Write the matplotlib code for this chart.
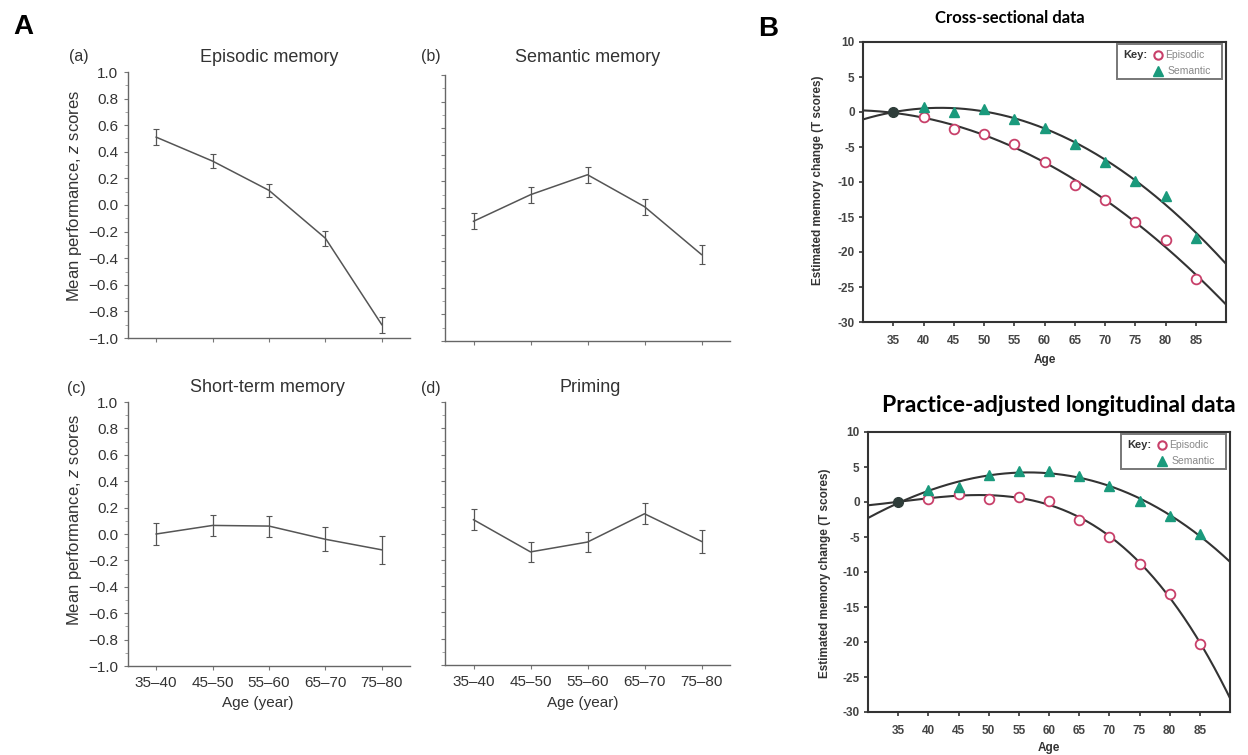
import numpy as np
import matplotlib
matplotlib.use("Agg")
import matplotlib.pyplot as plt
from matplotlib.ticker import MultipleLocator
from matplotlib.patches import Rectangle

plt.rcParams["axes.unicode_minus"] = False
plt.rcParams["mathtext.fontset"] = "custom"
plt.rcParams["mathtext.it"] = "Liberation Sans:italic"
plt.rcParams["mathtext.rm"] = "Liberation Sans"

# ---------------- data ----------------
age_groups = ["35–40", "45–50", "55–60", "65–70", "75–80"]
episodic_mean = [0.51, 0.33, 0.11, -0.25, -0.90]
episodic_err = [0.06, 0.05, 0.05, 0.055, 0.06]
semantic_mean = [-0.10, 0.10, 0.25, 0.01, -0.35]
semantic_err = [0.06, 0.06, 0.06, 0.06, 0.07]
short_term_mean = [0.0, 0.065, 0.06, -0.04, -0.12]
short_term_err = [0.085, 0.08, 0.08, 0.09, 0.105]
priming_mean = [0.105, -0.14, -0.065, 0.15, -0.06]
priming_err = [0.08, 0.075, 0.075, 0.08, 0.085]
z_ticks = [-1.0, -0.8, -0.6, -0.4, -0.2, 0.0, 0.2, 0.4, 0.6, 0.8, 1.0]

ages = [35, 40, 45, 50, 55, 60, 65, 70, 75, 80, 85]
cross_episodic = [0, -0.7, -2.45, -3.15, -4.5, -7.2, -10.4, -12.55, -15.65, -18.35, -23.85]
cross_semantic = [0, 0.75, 0.0, 0.5, -1.0, -2.25, -4.5, -7.15, -9.85, -12.0, -17.95]
long_episodic = [0, 0.5, 1.2, 0.5, 0.7, 0.15, -2.6, -5.0, -8.8, -13.1, -20.3]
long_semantic = [0, 1.75, 2.15, 3.9, 4.4, 4.4, 3.7, 2.25, 0.15, -2.05, -4.6]
t_ticks = [-30, -25, -20, -15, -10, -5, 0, 5, 10]

W, H = 1248, 755
fig = plt.figure(figsize=(W / 100, H / 100), dpi=100)

def px_axes(left, top, right, bottom):
    return fig.add_axes([left / W, (H - bottom) / H, (right - left) / W, (bottom - top) / H])

def ftext(x, y, s, **kw):
    fig.text(x / W, (H - y) / H, s, **kw)

A_FONT = "Liberation Sans"
GRAY = "#555555"

def panel_a(ax, means, errs, show_x, show_y):
    x = np.arange(len(age_groups))
    ax.errorbar(x, means, yerr=errs, color=GRAY, lw=1.1, elinewidth=0.9,
                capsize=2, capthick=0.8)
    ax.set_xlim(-0.5, 4.5)
    ax.set_ylim(-1.0, 1.0)
    ax.yaxis.set_minor_locator(MultipleLocator(0.1))
    ax.set_xticks(x)
    for s in ["top", "right"]:
        ax.spines[s].set_visible(False)
    for s in ["left", "bottom"]:
        ax.spines[s].set_color("#666666")
        ax.spines[s].set_linewidth(1.0)
    ax.tick_params(axis="both", which="major", direction="out", length=3,
                   width=0.8, color="#777777", labelsize=11, labelcolor="#333333", pad=4)
    ax.tick_params(axis="y", which="minor", direction="out", length=2,
                   width=0.6, color="#999999")
    if show_x:
        ax.set_xticklabels(age_groups, fontfamily=A_FONT)
    else:
        ax.set_xticklabels([])
    ax.set_yticks(z_ticks)
    if show_y:
        labels = [("\u2212" if v < 0 else "") + f"{abs(v):.1f}" for v in z_ticks]
        ax.set_yticklabels(labels, fontfamily=A_FONT)
    else:
        ax.set_yticklabels([])

ax_a = px_axes(128, 72, 410, 338)
panel_a(ax_a, episodic_mean, episodic_err, False, True)
ax_b = px_axes(445, 75, 730, 341)
panel_a(ax_b, semantic_mean, semantic_err, False, False)
ax_c = px_axes(128, 402, 410, 666)
panel_a(ax_c, short_term_mean, short_term_err, True, True)
ax_d = px_axes(445, 402, 730, 665)
panel_a(ax_d, priming_mean, priming_err, True, False)

tkw = dict(fontfamily=A_FONT, fontsize=13, color="#333333", ha="center", va="center")
ftext(79, 57, "(a)", **dict(tkw, fontsize=11.5))
ftext(431, 57, "(b)", **dict(tkw, fontsize=11.5))
ftext(76, 388, "(c)", **dict(tkw, fontsize=11.5))
ftext(431, 388, "(d)", **dict(tkw, fontsize=11.5))
ftext(269, 57, "Episodic memory", **tkw)
ftext(588, 57, "Semantic memory", **tkw)
ftext(267, 388, "Short-term memory", **tkw)
ftext(590, 388, "Priming", **tkw)
ylab = "Mean performance, $\\mathit{z}$ scores"
ftext(75, 196, ylab, fontfamily=A_FONT, fontsize=12,
      color="#333333", rotation=90, ha="center", va="center")
ftext(75, 520, ylab, fontfamily=A_FONT, fontsize=12,
      color="#333333", rotation=90, ha="center", va="center")
ftext(258, 703, "Age (year)", fontfamily=A_FONT, fontsize=11, color="#333333",
      ha="center", va="center")
ftext(583, 703, "Age (year)", fontfamily=A_FONT, fontsize=11, color="#333333",
      ha="center", va="center")

# ---------------- panel B ----------------
EP_COL = "#c8406a"
SE_COL = "#1a9a7c"
CURVE = "#333333"

def draw_key(ax):
    ax.add_patch(Rectangle((0.70, 0.868), 0.288, 0.125, transform=ax.transAxes,
                           facecolor="white", edgecolor="#777777", lw=1.4,
                           clip_on=False, zorder=5))
    ax.text(0.716, 0.952, "Key:", transform=ax.transAxes, fontsize=8,
            fontweight="bold", color="#333333", ha="left", va="center", zorder=6,
            fontfamily=A_FONT)
    ax.plot([0.812], [0.952], transform=ax.transAxes, marker="o", ms=6,
            mfc="none", mec=EP_COL, mew=1.5, ls="none", clip_on=False, zorder=6)
    ax.text(0.833, 0.952, "Episodic", transform=ax.transAxes, fontsize=7.5,
            color="#888888", ha="left", va="center", zorder=6, fontfamily=A_FONT)
    ax.plot([0.812], [0.895], transform=ax.transAxes, marker="^", ms=7,
            color=SE_COL, ls="none", clip_on=False, zorder=6)
    ax.text(0.838, 0.895, "Semantic", transform=ax.transAxes, fontsize=7.5,
            color="#888888", ha="left", va="center", zorder=6, fontfamily=A_FONT)

def panel_b(ax, ep, se, deg):
    a = np.array(ages, dtype=float)
    xs = np.linspace(30, 90, 300)
    ep_fit = np.polyval(np.polyfit(a, ep, deg), xs)
    se_fit = np.polyval(np.polyfit(a, se, deg), xs)
    ax.plot(xs, ep_fit, color=CURVE, lw=1.5, zorder=2)
    ax.plot(xs, se_fit, color=CURVE, lw=1.5, zorder=2)
    ax.plot(a[1:], np.array(ep)[1:], ls="none", marker="o", ms=7, mfc="white",
            mec=EP_COL, mew=1.3, zorder=3)
    ax.plot(a[1:], np.array(se)[1:], ls="none", marker="^", ms=6.5, color=SE_COL,
            zorder=3)
    ax.plot([a[0]], [ep[0]], ls="none", marker="o", ms=7, color="#2f3d3a", zorder=4)
    ax.set_xlim(30, 90)
    ax.set_ylim(-30, 10)
    ax.set_xticks(ages)
    ax.set_yticks(t_ticks)
    for s in ax.spines.values():
        s.set_color("#333333")
        s.set_linewidth(1.5)
    ax.tick_params(direction="out", length=3, width=1.2, color="#333333",
                   labelsize=8.5, labelcolor="#444444", pad=3)
    for lab in ax.get_xticklabels() + ax.get_yticklabels():
        lab.set_fontweight("bold")
        lab.set_fontfamily(A_FONT)
    ax.tick_params(axis="x", pad=6)
    draw_key(ax)

ax_bt = px_axes(863, 42, 1226, 322)
panel_b(ax_bt, cross_episodic, cross_semantic, 2)
ax_bb = px_axes(868, 432, 1230, 712)
panel_b(ax_bb, long_episodic, long_semantic, 3)

blab = dict(fontfamily=A_FONT, fontsize=8.5, fontweight="bold", color="#333333",
            ha="center", va="center")
ftext(818, 180, "Estimated memory change (T scores)", rotation=90, **blab)
ftext(825, 573, "Estimated memory change (T scores)", rotation=90, **blab)
ftext(1045, 360, "Age", **blab)
ftext(1049, 748, "Age", **blab)

ttl = dict(fontfamily="Lato", fontweight="bold", color="black",
           ha="center", va="center")
ftext(1010, 18, "Cross-sectional data", fontsize=12, **ttl)
ftext(1059, 405, "Practice-adjusted longitudinal data", fontsize=16.5, **ttl)

ftext(23, 27, "A", fontfamily=A_FONT, fontsize=20, fontweight="bold",
      ha="center", va="center")
ftext(768, 29, "B", fontfamily=A_FONT, fontsize=20, fontweight="bold",
      ha="center", va="center")

fig.savefig("out.png", dpi=100, facecolor="white")
